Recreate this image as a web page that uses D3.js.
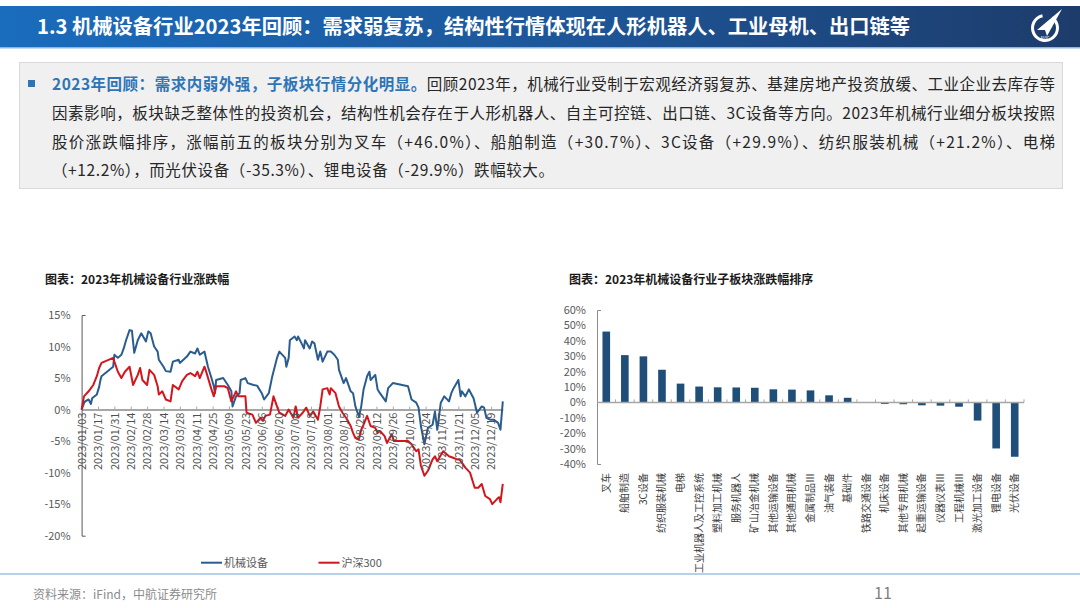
<!DOCTYPE html>
<html><head><meta charset="utf-8">
<script src="https://cdn.jsdelivr.net/npm/d3@7"></script>
<style>body{margin:0;background:#fff}svg{display:block}</style>
</head><body>
<script>
// ---------------- DATA ----------------
const pageTitle = "1.3 机械设备行业2023年回顾：需求弱复苏，结构性行情体现在人形机器人、工业母机、出口链等";
const summaryLead = "2023年回顾：需求内弱外强，子板块行情分化明显。";
const summaryLines = [
  "回顾2023年，机械行业受制于宏观经济弱复苏、基建房地产投资放缓、工业企业去库存等",
  "因素影响，板块缺乏整体性的投资机会，结构性机会存在于人形机器人、自主可控链、出口链、3C设备等方向。2023年机械行业细分板块按照",
  "股价涨跌幅排序，涨幅前五的板块分别为叉车（+46.0%）、船舶制造（+30.7%）、3C设备（+29.9%）、纺织服装机械（+21.2%）、电梯",
  "（+12.2%），而光伏设备（-35.3%）、锂电设备（-29.9%）跌幅较大。"
];
const leftTitle = "图表：2023年机械设备行业涨跌幅";
const rightTitle = "图表：2023年机械设备行业子板块涨跌幅排序";
const sourceText = "资料来源：iFind，中航证券研究所";
const pageNumber = "11";

const seriesNames = ["机械设备", "沪深300"];

// 机械设备 cumulative change (%)
const machineryPoints = [
["2023-01-03",0],["2023-01-05",1.0],["2023-01-06",1.3],["2023-01-09",1.6],["2023-01-11",0.9],["2023-01-12",1.8],
["2023-01-16",2.4],["2023-01-17",3.0],["2023-01-18",3.6],["2023-01-19",4.6],["2023-01-20",5.3],["2023-01-30",6.8],
["2023-01-31",8.7],["2023-02-03",8.2],["2023-02-06",8.7],["2023-02-08",9.7],["2023-02-10",11.0],["2023-02-13",12.6],
["2023-02-15",12.5],["2023-02-17",9.0],["2023-02-20",11.0],["2023-02-23",12.1],["2023-02-27",10.8],["2023-03-01",12.4],
["2023-03-03",12.1],["2023-03-06",10.0],["2023-03-09",9.2],["2023-03-10",7.9],["2023-03-14",6.8],["2023-03-16",6.1],
["2023-03-20",6.0],["2023-03-22",7.6],["2023-03-27",7.9],["2023-03-28",7.4],["2023-04-03",8.4],["2023-04-06",9.2],
["2023-04-10",8.9],["2023-04-12",9.7],["2023-04-14",8.7],["2023-04-18",9.2],["2023-04-21",6.8],["2023-04-24",5.0],
["2023-04-26",3.7],["2023-04-27",2.6],["2023-04-28",4.7],["2023-05-04",5.0],["2023-05-08",3.9],["2023-05-11",2.9],
["2023-05-12",0.5],["2023-05-15",2.1],["2023-05-18",2.6],["2023-05-19",4.7],["2023-05-23",5.0],["2023-05-25",4.2],
["2023-05-30",3.9],["2023-06-02",3.8],["2023-06-06",2.6],["2023-06-08",1.6],["2023-06-12",2.6],["2023-06-15",5.3],
["2023-06-19",8.2],["2023-06-21",9.2],["2023-06-26",8.2],["2023-06-27",6.8],["2023-06-29",8.2],["2023-06-30",11.0],
["2023-07-04",11.6],["2023-07-06",11.0],["2023-07-07",11.6],["2023-07-10",10.5],["2023-07-12",9.7],["2023-07-13",11.0],
["2023-07-17",9.7],["2023-07-19",10.8],["2023-07-21",10.5],["2023-07-24",7.9],["2023-07-26",9.2],["2023-07-28",7.6],
["2023-08-01",9.2],["2023-08-04",9.2],["2023-08-07",8.7],["2023-08-10",7.9],["2023-08-11",6.3],["2023-08-14",4.7],
["2023-08-15",4.2],["2023-08-17",5.0],["2023-08-21",2.9],["2023-08-23",2.6],["2023-08-25",0.5],["2023-08-28",-1.1],
["2023-08-30",0.5],["2023-09-01",3.2],["2023-09-04",5.3],["2023-09-06",6.0],["2023-09-07",4.7],["2023-09-11",5.5],
["2023-09-13",3.2],["2023-09-15",2.6],["2023-09-20",1.3],["2023-09-22",3.4],["2023-09-26",4.2],["2023-10-09",3.7],
["2023-10-12",1.6],["2023-10-16",1.1],["2023-10-18",0.3],["2023-10-20",-2.6],["2023-10-23",-5.5],["2023-10-26",-2.9],
["2023-10-30",-2.4],["2023-11-01",-0.3],["2023-11-03",-3.2],["2023-11-06",1.1],["2023-11-09",2.1],["2023-11-13",1.3],
["2023-11-15",2.6],["2023-11-17",3.4],["2023-11-21",4.7],["2023-11-23",2.1],["2023-11-24",2.9],["2023-11-27",2.1],
["2023-11-30",3.2],["2023-12-04",1.8],["2023-12-07",-0.5],["2023-12-11",0.5],["2023-12-13",0.3],["2023-12-15",-1.3],
["2023-12-18",-1.6],["2023-12-21",-1.6],["2023-12-25",-2.1],["2023-12-27",-3.2],["2023-12-29",1.3]
];

// 沪深300 cumulative change (%)
const csi300Points = [
["2023-01-03",0],["2023-01-05",2.1],["2023-01-09",2.9],["2023-01-11",3.4],["2023-01-13",3.9],["2023-01-16",5.3],
["2023-01-18",6.6],["2023-01-20",7.4],["2023-01-30",8.2],["2023-01-31",7.6],["2023-02-03",6.0],["2023-02-06",5.0],
["2023-02-09",6.0],["2023-02-13",6.8],["2023-02-16",3.9],["2023-02-20",5.5],["2023-02-22",6.6],["2023-02-24",4.7],
["2023-02-28",3.9],["2023-03-02",6.3],["2023-03-06",5.5],["2023-03-09",3.7],["2023-03-10",2.4],["2023-03-13",2.9],
["2023-03-16",1.6],["2023-03-20",1.3],["2023-03-22",3.9],["2023-03-27",3.2],["2023-03-30",4.5],["2023-04-03",5.5],
["2023-04-06",5.8],["2023-04-10",5.3],["2023-04-12",6.0],["2023-04-14",5.0],["2023-04-18",6.8],["2023-04-19",6.3],
["2023-04-24",3.2],["2023-04-26",2.1],["2023-04-28",3.7],["2023-05-05",3.7],["2023-05-08",3.4],["2023-05-11",1.3],
["2023-05-15",2.9],["2023-05-17",2.1],["2023-05-19",2.1],["2023-05-23",2.1],["2023-05-24",-0.5],["2023-05-29",-0.8],
["2023-06-01",-2.1],["2023-06-05",-1.3],["2023-06-07",-1.8],["2023-06-09",-1.0],["2023-06-13",-0.8],["2023-06-16",2.1],
["2023-06-19",0.5],["2023-06-21",-0.5],["2023-06-26",-1.0],["2023-06-29",0.0],["2023-07-03",-1.3],["2023-07-05",0.5],
["2023-07-07",-1.3],["2023-07-11",-0.5],["2023-07-14",0.3],["2023-07-17",-1.0],["2023-07-20",-0.3],["2023-07-24",-1.6],
["2023-07-26",0.5],["2023-07-28",3.2],["2023-08-01",3.4],["2023-08-03",2.4],["2023-08-04",3.4],["2023-08-08",2.6],
["2023-08-11",0.5],["2023-08-14",-0.5],["2023-08-17",-1.3],["2023-08-21",-2.6],["2023-08-23",-3.7],["2023-08-25",-4.5],
["2023-08-28",-4.7],["2023-08-30",-3.2],["2023-09-01",-2.4],["2023-09-04",-1.0],["2023-09-07",-2.6],["2023-09-11",-2.9],
["2023-09-13",-3.7],["2023-09-15",-3.4],["2023-09-19",-4.2],["2023-09-21",-5.3],["2023-09-25",-3.9],["2023-09-27",-5.0],
["2023-10-09",-5.0],["2023-10-12",-5.5],["2023-10-16",-6.6],["2023-10-18",-6.3],["2023-10-20",-8.9],["2023-10-23",-10.5],
["2023-10-26",-9.7],["2023-10-30",-7.9],["2023-11-01",-7.4],["2023-11-03",-8.2],["2023-11-08",-6.6],["2023-11-13",-7.4],
["2023-11-16",-7.6],["2023-11-20",-7.9],["2023-11-22",-7.9],["2023-11-27",-9.2],["2023-12-01",-10.0],["2023-12-05",-12.4],
["2023-12-08",-12.4],["2023-12-11",-11.8],["2023-12-14",-13.7],["2023-12-18",-14.2],["2023-12-20",-15.0],["2023-12-25",-14.0],
["2023-12-26",-13.9],["2023-12-27",-14.7],["2023-12-29",-11.8]
];

const dateTickLabels = ["2023/01/03","2023/01/17","2023/01/31","2023/02/14","2023/02/28","2023/03/14","2023/03/28",
"2023/04/11","2023/04/25","2023/05/09","2023/05/23","2023/06/06","2023/06/20","2023/07/04","2023/07/18","2023/08/01",
"2023/08/15","2023/08/29","2023/09/12","2023/09/26","2023/10/10","2023/10/24","2023/11/07","2023/11/21","2023/12/05","2023/12/19"];
const leftYTicks = [15,10,5,0,-5,-10,-15,-20];

const subSectors = ["叉车","船舶制造","3C设备","纺织服装机械","电梯","工业机器人及工控系统","塑料加工机械","服务机器人",
"矿山冶金机械","其他运输设备","其他通用机械","金属制品Ⅲ","油气装备","基础件","铁路交通设备","机床设备","其他专用机械",
"起重运输设备","仪器仪表Ⅲ","工程机械Ⅲ","激光加工设备","锂电设备","光伏设备"];
const subSectorChange = [46.0,30.7,29.9,21.2,12.2,10.3,9.8,9.7,9.5,8.5,8.3,7.8,4.6,3.0,-0.2,-1.0,-1.2,-1.9,-2.1,-2.8,-11.8,-29.9,-35.3];
const rightYTicks = [60,50,40,30,20,10,0,-10,-20,-30,-40];

// ---------------- DRAW ----------------
const FONT = "'Noto Sans CJK SC','Noto Sans',sans-serif";
const svg = d3.select("body").append("svg").attr("width",1080).attr("height",608)
  .style("font-family",FONT);

// header
const defs = svg.append("defs");
const grad = defs.append("linearGradient").attr("id","hdr").attr("x1","0").attr("x2","1");
grad.append("stop").attr("offset","0").attr("stop-color","#1a6cbd");
grad.append("stop").attr("offset","0.55").attr("stop-color","#1d5597");
grad.append("stop").attr("offset","1").attr("stop-color","#1d3c6b");
svg.append("rect").attr("x",0).attr("y",6).attr("width",1080).attr("height",41).attr("fill","url(#hdr)");
svg.append("rect").attr("x",0).attr("y",47).attr("width",1080).attr("height",1.5).attr("fill","#8db4e2");
svg.append("text").attr("x",37).attr("y",34).attr("fill","#fff").attr("font-size",20).attr("font-weight",700)
  .attr("textLength",873).attr("lengthAdjust","spacingAndGlyphs").text(pageTitle);
// logo
const logo = svg.append("g").attr("transform","translate(1045,28)");
logo.append("path").attr("d",d3.arc()({innerRadius:11,outerRadius:14,startAngle:0.6,endAngle:2*Math.PI-0.2})).attr("fill","#fff");
logo.append("path").attr("d","M17,-19 L-8,2 L0,2 L2,8 Z").attr("fill","#fff");
logo.append("text").attr("x",0).attr("y",12).attr("text-anchor","middle").attr("font-size",4.5).attr("fill","#fff").text("AVIC");

// summary box
svg.append("rect").attr("x",19.5).attr("y",62.5).attr("width",1043).attr("height",126)
  .attr("fill","#f0f0f0").attr("stroke","#d9d9d9");
svg.append("rect").attr("x",28).attr("y",80).attr("width",7).attr("height",7).attr("fill","#2e75b6");
const baselines = [90,119,147.5,176];
const lineLengths = [1003,1003,1003,502];
summaryLines.forEach((ln,i)=>{
  const t = svg.append("text").attr("x",52).attr("y",baselines[i]).attr("font-size",15.5).attr("fill","#262626")
    .attr("textLength",lineLengths[i]).attr("lengthAdjust","spacing");
  if(i===0){
    t.append("tspan").attr("fill","#2e75b6").attr("font-weight",700).text(summaryLead);
    t.append("tspan").text(ln);
  } else t.text(ln);
});

// ---------------- LEFT LINE CHART ----------------
const parseD = d3.timeParse("%Y-%m-%d");
const parseT = d3.timeParse("%Y/%m/%d");
svg.append("text").attr("x",45).attr("y",284).attr("font-size",12).attr("font-weight",700).attr("fill","#1a1a1a").text(leftTitle);

const xL = d3.scaleTime().domain([parseD("2023-01-03"),parseD("2023-12-29")]).range([81.6,502.8]);
const yL = d3.scaleLinear().domain([-20,15]).range([535.7,315]);
const tickDates = dateTickLabels.map(parseT);

// zero line with small ticks
const zeroAx = svg.append("g").attr("transform",`translate(0,${yL(0)})`)
  .call(d3.axisBottom(xL).tickValues(tickDates).tickSize(-3).tickSizeOuter(0).tickFormat(""));
zeroAx.select(".domain").attr("stroke","#a6a6a6").attr("stroke-width",2);
zeroAx.selectAll(".tick line").attr("stroke","#a6a6a6");

const yAxL = svg.append("g").attr("transform","translate(81.6,0)")
  .call(d3.axisLeft(yL).tickValues(leftYTicks).tickFormat(d=>d+"%").tickSizeInner(0).tickSizeOuter(-4).tickPadding(11));
yAxL.select(".domain").attr("stroke","#595959");
yAxL.selectAll("text").attr("font-size",11).attr("fill","#595959").style("font-family",FONT);

const line = d3.line().x(d=>xL(parseD(d[0]))).y(d=>yL(d[1]));
svg.append("path").datum(machineryPoints).attr("d",line).attr("fill","none").attr("stroke","#2b5c8f").attr("stroke-width",2).attr("stroke-linejoin","round");
svg.append("path").datum(csi300Points).attr("d",line).attr("fill","none").attr("stroke","#d3151c").attr("stroke-width",2).attr("stroke-linejoin","round");

// date labels
const dateAx = svg.append("g").attr("transform",`translate(0,${yL(0)})`)
  .call(d3.axisBottom(xL).tickValues(tickDates).tickSize(0).tickFormat((d,i)=>dateTickLabels[i]));
dateAx.select(".domain").remove();
dateAx.selectAll("text").attr("transform","rotate(-90)").attr("text-anchor","end").attr("x",-3).attr("y",0).attr("dy","0.35em")
  .attr("font-size",11).attr("fill","#505050").style("font-family",FONT);

// legend
const legL = [{x:201,c:"#2b5c8f"},{x:318.5,c:"#d3151c"}];
legL.forEach((l,i)=>{
  svg.append("line").attr("x1",l.x).attr("x2",l.x+21).attr("y1",562.7).attr("y2",562.7).attr("stroke",l.c).attr("stroke-width",2);
  svg.append("text").attr("x",l.x+23).attr("y",562.7).attr("dy","0.35em").attr("font-size",11).attr("fill","#595959").text(seriesNames[i]);
});

// ---------------- RIGHT BAR CHART ----------------
svg.append("text").attr("x",569).attr("y",284).attr("font-size",12).attr("font-weight",700).attr("fill","#1a1a1a").text(rightTitle);
const xR = d3.scaleBand().domain(subSectors).range([597,1024]).paddingInner(0.59).paddingOuter(0.295);
const yR = d3.scaleLinear().domain([-40,60]).range([464,310]);

svg.append("g").selectAll("rect").data(subSectors).join("rect")
  .attr("x",d=>xR(d)).attr("width",xR.bandwidth())
  .attr("y",(d,i)=>yR(Math.max(0,subSectorChange[i])))
  .attr("height",(d,i)=>Math.abs(yR(subSectorChange[i])-yR(0)))
  .attr("fill","#1f4e79");

const yAxR = svg.append("g").attr("transform","translate(597,0)")
  .call(d3.axisLeft(yR).tickValues(rightYTicks).tickFormat(d=>d+"%").tickSizeInner(0).tickSizeOuter(-4).tickPadding(11));
yAxR.select(".domain").attr("stroke","#8c8c8c");
yAxR.selectAll("text").attr("font-size",11).attr("fill","#595959").style("font-family",FONT);

// zero line with boundary ticks
svg.append("line").attr("x1",597).attr("x2",1024).attr("y1",yR(0)).attr("y2",yR(0)).attr("stroke","#a6a6a6").attr("stroke-width",1.5);
const step = xR.step();
svg.append("g").selectAll("line").data(subSectors).join("line")
  .attr("x1",d=>xR(d)+xR.bandwidth()/2+step/2).attr("x2",d=>xR(d)+xR.bandwidth()/2+step/2)
  .attr("y1",yR(0)).attr("y2",yR(0)-3).attr("stroke","#a6a6a6");

const catAx = svg.append("g").attr("transform","translate(0,470)")
  .call(d3.axisBottom(xR).tickSize(0));
catAx.select(".domain").remove();
catAx.selectAll("text").attr("transform","rotate(-90)").attr("text-anchor","end").attr("x",-3).attr("y",0).attr("dy","0.35em")
  .attr("font-size",10).attr("fill","#404040").style("font-family",FONT);

// ---------------- FOOTER ----------------
svg.append("line").attr("x1",0).attr("x2",1080).attr("y1",574).attr("y2",574).attr("stroke","#9dc3e6").attr("stroke-width",1.5);
svg.append("text").attr("x",33).attr("y",599).attr("font-size",12).attr("fill","#8c8c8c").text(sourceText);
svg.append("text").attr("x",883).attr("y",599).attr("text-anchor","middle").attr("font-size",16).attr("fill","#7f7f7f").text(pageNumber);
</script>
</body></html>
